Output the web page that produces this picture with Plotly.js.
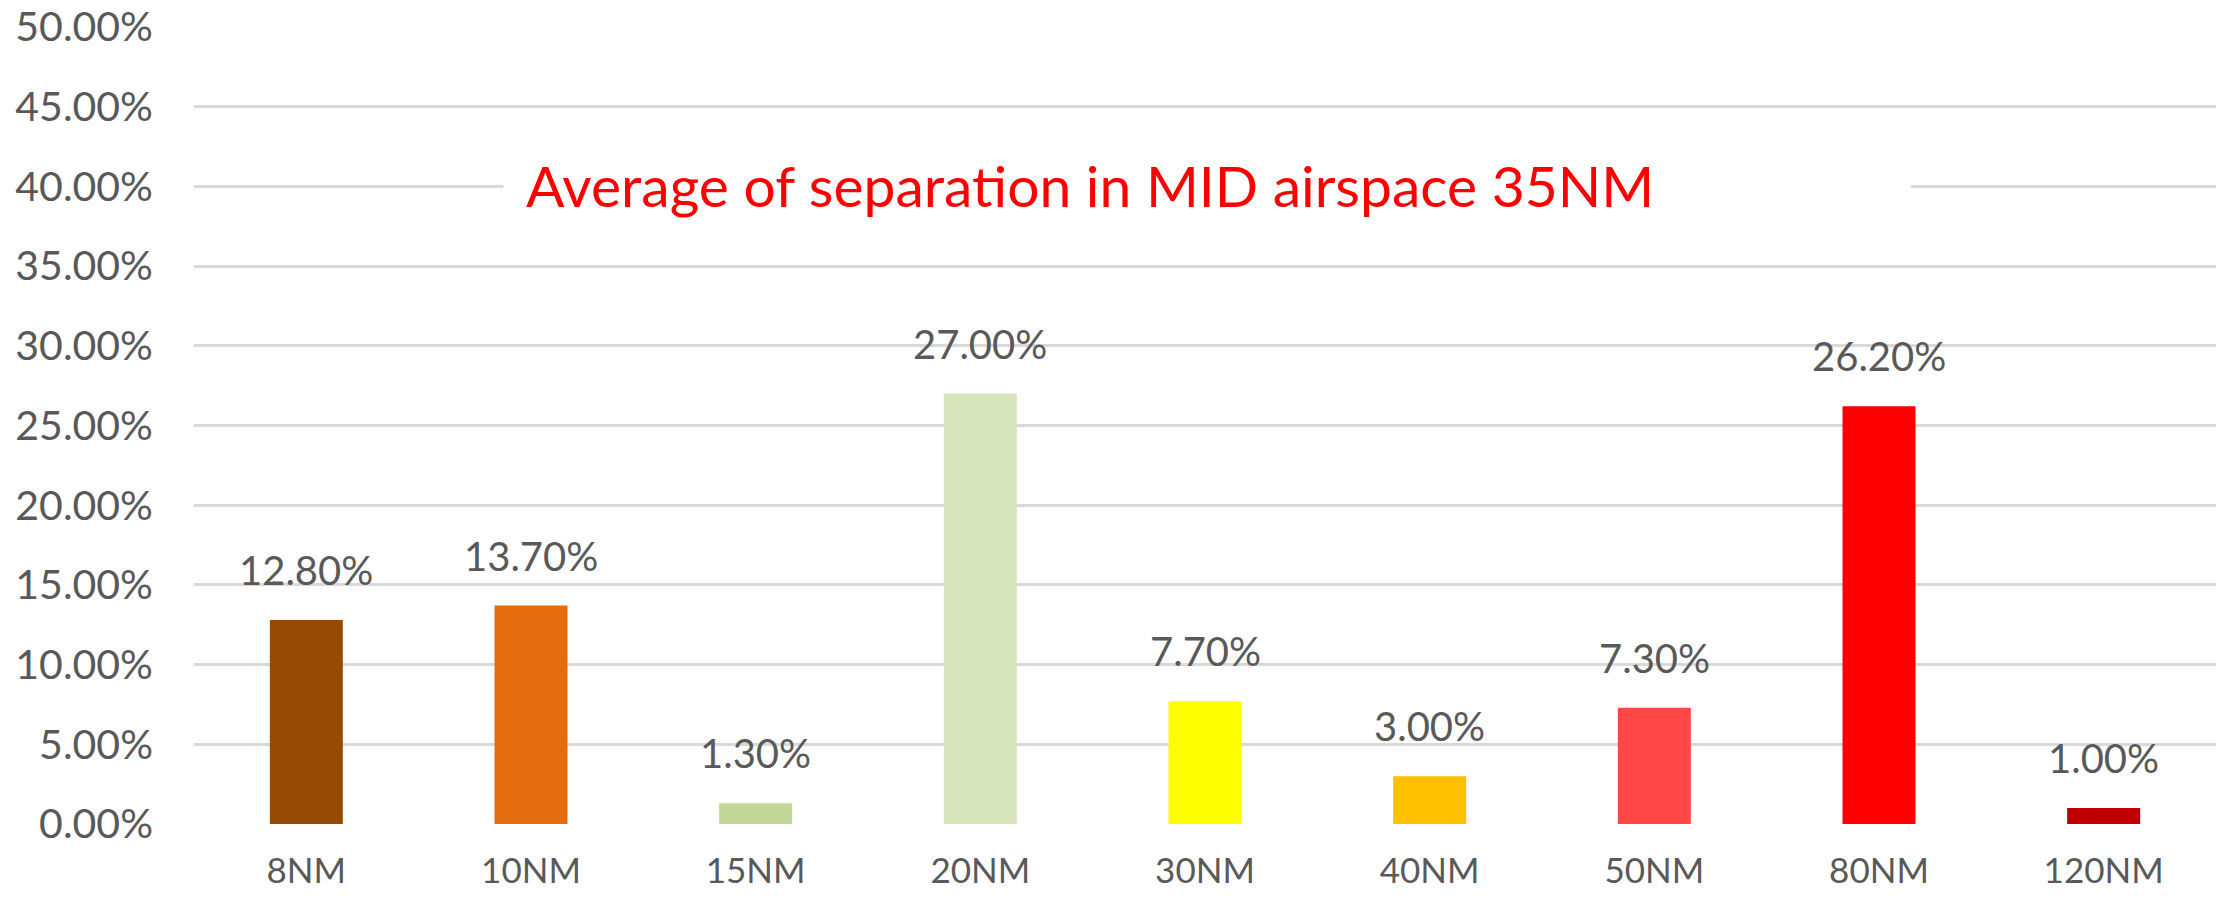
<!DOCTYPE html>
<html>
<head>
<meta charset="utf-8">
<script src="https://cdn.plot.ly/plotly-3.0.1.min.js"></script>
<style>html,body{margin:0;padding:0;background:#fff;}#chart{width:2228px;height:899px;}</style>
</head>
<body>
<div id="chart"></div>
<script>
const categories = ["8NM", "10NM", "15NM", "20NM", "30NM", "40NM", "50NM", "80NM", "120NM"];
const values = [0.128, 0.137, 0.013, 0.27, 0.077, 0.03, 0.073, 0.262, 0.01];
const barColors = ["#954A06", "#E36C0E", "#C4D79B", "#D8E4BC", "#FFFF00", "#FFC000", "#FF4747", "#FF0000", "#C00000"];
const yTickValues = [0, 0.05, 0.1, 0.15, 0.2, 0.25, 0.3, 0.35, 0.4, 0.45, 0.5];
const titleText = "Average of separation in MID airspace 35NM";

const FONT = "Lato, 'Open Sans', sans-serif";
const GREY = "#595959";

const trace = {
  type: "bar",
  x: categories,
  y: values,
  marker: {color: barColors, line: {width: 0}},
  hoverinfo: "skip"
};

const labelAnnotations = categories.map((c, i) => ({
  x: c, y: values[i], xref: "x", yref: "y",
  text: (values[i] * 100).toFixed(2) + "%",
  showarrow: false, yanchor: "bottom", yshift: 24,
  font: {family: FONT, size: 40, color: GREY}
}));

const layout = {
  width: 2228, height: 899,
  margin: {l: 194, r: 12, t: 27, b: 75},
  paper_bgcolor: "#fff", plot_bgcolor: "#fff",
  showlegend: false,
  bargap: 0.675,
  xaxis: {
    type: "category",
    showgrid: false, zeroline: false, showline: false,
    ticks: "", ticklabelstandoff: 23,
    tickfont: {family: FONT, size: 35, color: GREY}
  },
  yaxis: {
    range: [0, 0.5], tickvals: yTickValues, tickformat: ".2%",
    showgrid: true, gridcolor: "#D9D9D9", gridwidth: 3,
    zeroline: false, showline: false, ticks: "",
    ticklabelstandoff: 40,
    tickfont: {family: FONT, size: 41, color: GREY}
  },
  shapes: [{
    type: "rect", xref: "paper", yref: "paper",
    x0: 0.153, x1: 0.849, y0: 0.75, y1: 0.85,
    fillcolor: "#fff", line: {width: 0}, layer: "above"
  }],
  annotations: labelAnnotations.concat([{
    text: titleText, xref: "paper", yref: "paper",
    x: 0.443, y: 0.802, xanchor: "center", yanchor: "middle",
    showarrow: false,
    font: {family: FONT, size: 57, color: "#FF0000"}
  }])
};

Plotly.newPlot("chart", [trace], layout, {staticPlot: true, displayModeBar: false});
</script>
</body>
</html>
